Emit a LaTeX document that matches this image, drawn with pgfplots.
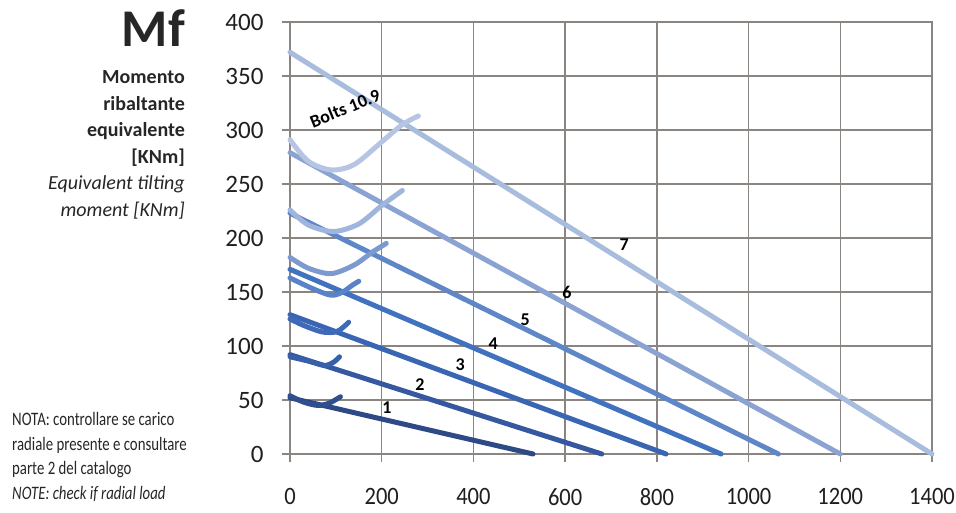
\documentclass[border=0pt]{standalone}
\usepackage{fontspec}
\setmainfont{Carlito}
\newfontfamily\condfont{Carlito}[FakeStretch=0.78]
\newfontfamily\xfont{Carlito}[FakeStretch=0.9]
\usepackage{pgfplots}
\pgfplotsset{compat=1.18}
\definecolor{gridc}{HTML}{8B8581}
\definecolor{cA}{HTML}{2D4A86}
\definecolor{cB}{HTML}{3558A0}
\definecolor{cC}{HTML}{3A65B3}
\definecolor{cD}{HTML}{4172C0}
\definecolor{cE}{HTML}{5F87C7}
\definecolor{cF}{HTML}{8AA3D2}
\definecolor{cG}{HTML}{A8BCDE}
\definecolor{bA}{HTML}{2F4F8E}
\definecolor{bB}{HTML}{3860A8}
\definecolor{bC}{HTML}{3E6AB8}
\definecolor{bD}{HTML}{5A82C6}
\definecolor{bE}{HTML}{7C9AD0}
\definecolor{bF}{HTML}{A0B5DC}
\definecolor{bG}{HTML}{B5C5E3}
\begin{document}
\begin{tikzpicture}
\begin{axis}[
  scale only axis, width=642pt, height=432pt,
  xmin=0, xmax=1400, ymin=0, ymax=400,
  xtick={0,200,...,1400}, ytick={0,50,...,400},
  grid=major, grid style={line width=1.4pt, color=gridc},
  axis line style={line width=1.4pt, color=gridc},
  tick style={line width=1.4pt, color=gridc},
  major tick length=8pt, tick align=outside,
  xtick pos=left, ytick pos=left,
  /pgf/number format/assume math mode=true,
  /pgf/number format/1000 sep={},
  yticklabel style={font=\fontsize{25}{25}\selectfont, text=black!88, xshift=-15pt},
  xticklabel style={font=\xfont\fontsize{25}{25}\selectfont, text=black!88, yshift=-23pt},
  clip=false,
  every axis plot/.append style={line width=5pt, line cap=round, line join=round},
]
% main lines
\addplot[cG] coordinates {(0,372) (1400,0)};
\addplot[cF] coordinates {(0,279) (1200,0)};
\addplot[cE] coordinates {(0,223) (1065,0)};
\addplot[cD] coordinates {(0,171) (940,0)};
\addplot[cC] coordinates {(0,129) (820,0)};
\addplot[cB] coordinates {(0,92) (680,0)};
\addplot[cA] coordinates {(0,52) (530,0)};
% bolts 10.9 curves
\addplot[bG, smooth] coordinates {(0,291) (40,271) (90,263) (140,268) (200,289) (245,305) (280,313)};
\addplot[bF, smooth] coordinates {(0,226) (40,212) (95,206) (150,213) (200,230) (245,244)};
\addplot[bE, smooth] coordinates {(0,182) (40,172) (90,167) (140,175) (180,187) (210,195)};
\addplot[bD, smooth] coordinates {(0,163) (50,153) (90,147) (115,150) (135,156) (150,160)};
\addplot[bC, smooth] coordinates {(0,125) (30,119) (70,113) (100,113) (115,117) (128,122)};
\addplot[bB, smooth] coordinates {(0,90) (40,86) (75,82) (95,85) (108,90)};
\addplot[bA, smooth] coordinates {(0,54) (30,48) (60,45) (85,47) (110,53)};
% size labels
\begin{scope}[every node/.style={font=\bfseries\fontsize{18}{18}\selectfont, inner sep=0pt}]
\node at (axis cs:211.6,42.6) {1};
\node at (axis cs:283.6,63.9) {2};
\node at (axis cs:370.9,82.4) {3};
\node at (axis cs:442.9,101.9) {4};
\node at (axis cs:512.6,124.1) {5};
\node at (axis cs:604.1,150) {6};
\node at (axis cs:728.5,193.5) {7};
\node[rotate=22, font=\bfseries\fontsize{18}{18}\selectfont] at (axis cs:120,320) {Bolts 10.9};
\end{scope}
\end{axis}
% left text block
\begin{scope}[every node/.style={inner sep=0pt, anchor=base east, text=black!85}]
\node[font=\bfseries\fontsize{53}{53}\selectfont] at (-105pt,407pt) {Mf};
\node[font=\bfseries\fontsize{20}{20}\selectfont] at (-105pt,370pt) {Momento};
\node[font=\bfseries\fontsize{20}{20}\selectfont] at (-105pt,343.5pt) {ribaltante};
\node[font=\bfseries\fontsize{20}{20}\selectfont] at (-105pt,317pt) {equivalente};
\node[font=\bfseries\fontsize{20}{20}\selectfont] at (-105pt,290.5pt) {[KNm]};
\node[font=\itshape\fontsize{20}{20}\selectfont] at (-105pt,264pt) {Equivalent tilting};
\node[font=\itshape\fontsize{20}{20}\selectfont] at (-105pt,237.5pt) {moment [KNm]};
\end{scope}
\begin{scope}[every node/.style={inner sep=0pt, anchor=base west, text=black!85, font=\condfont\fontsize{19}{19}\selectfont}]
\node at (-278pt,28pt) {NOTA: controllare se carico};
\node at (-278pt,3pt) {radiale presente e consultare};
\node at (-278pt,-21pt) {parte 2 del catalogo};
\node[font=\condfont\itshape\fontsize{19}{19}\selectfont] at (-278pt,-46pt) {NOTE: check if radial load};
\end{scope}
\pgfresetboundingbox
\path (-290pt,-59pt) rectangle (666pt,454pt);
\end{tikzpicture}
\end{document}
